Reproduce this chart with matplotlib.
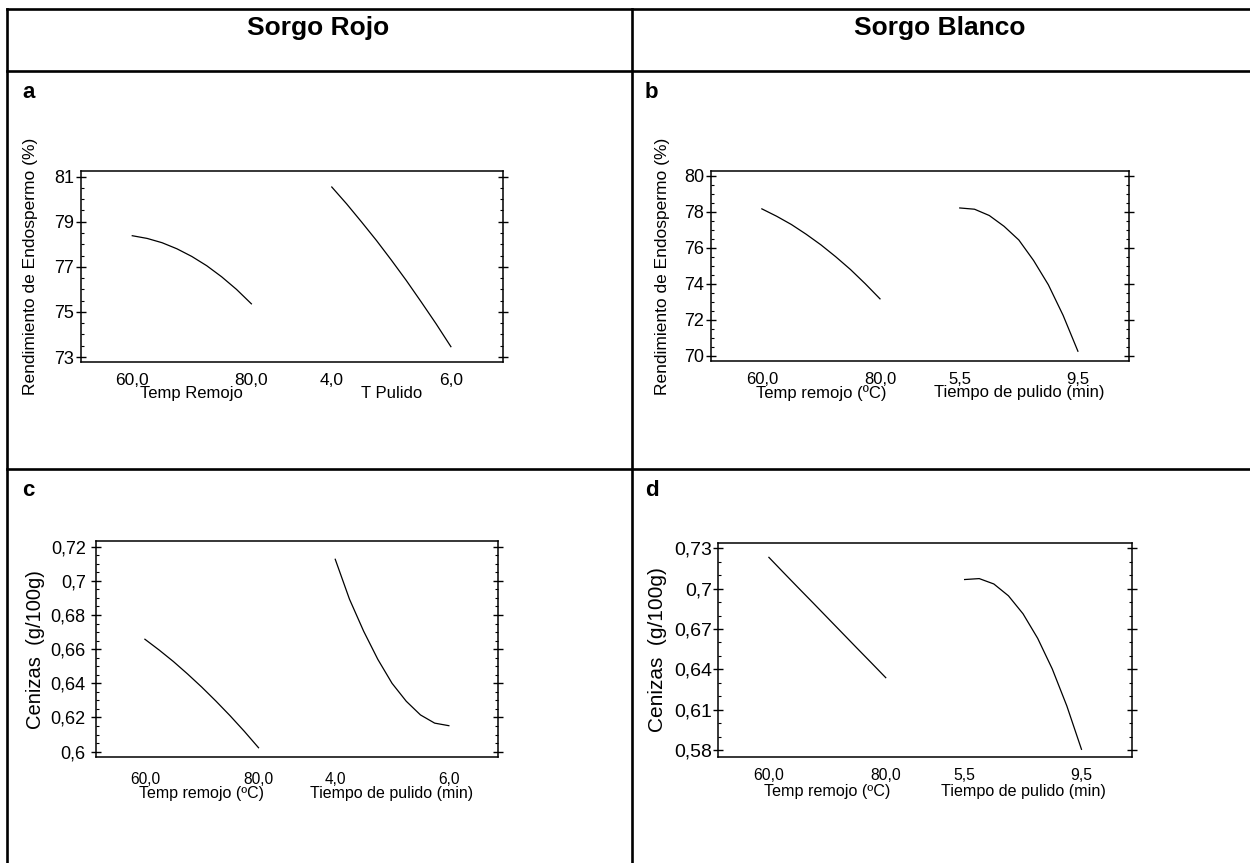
import matplotlib

matplotlib.use("Agg")
import matplotlib.pyplot as plt
from matplotlib.lines import Line2D
from matplotlib.ticker import FixedLocator, FuncFormatter, MultipleLocator

plt.rcParams["font.family"] = ["Liberation Sans", "DejaVu Sans"]

W, H = 1250, 863

# factor levels along each curve
temp_levels = [60.0, 62.5, 65.0, 67.5, 70.0, 72.5, 75.0, 77.5, 80.0]
pulido_rojo_levels = [4.0, 4.25, 4.5, 4.75, 5.0, 5.25, 5.5, 5.75, 6.0]
pulido_blanco_levels = [5.5, 6.0, 6.5, 7.0, 7.5, 8.0, 8.5, 9.0, 9.5]

# a) Sorgo Rojo - rendimiento de endospermo (%)
rend_rojo_temp = [78.38, 78.26, 78.07, 77.80, 77.46, 77.05, 76.56, 76.00, 75.36]
rend_rojo_pulido = [80.54, 79.79, 78.99, 78.17, 77.30, 76.40, 75.45, 74.48, 73.46]
# b) Sorgo Blanco - rendimiento de endospermo (%)
rend_blanco_temp = [78.17, 77.76, 77.30, 76.76, 76.17, 75.51, 74.80, 74.01, 73.17]
rend_blanco_pulido = [78.22, 78.15, 77.80, 77.20, 76.44, 75.30, 73.95, 72.25, 70.26]
# c) Sorgo Rojo - cenizas (g/100g)
cen_rojo_temp = [0.6658, 0.6595, 0.6528, 0.6455, 0.6378, 0.6296, 0.6210, 0.6119, 0.6023]
cen_rojo_pulido = [0.7126, 0.6893, 0.6705, 0.6540, 0.6400, 0.6295, 0.6215, 0.6167, 0.6152]
# d) Sorgo Blanco - cenizas (g/100g)
cen_blanco_temp = [0.7233, 0.7120, 0.7008, 0.6897, 0.6785, 0.6673, 0.6561, 0.6450, 0.6338]
cen_blanco_pulido = [0.7068, 0.7075, 0.7035, 0.6947, 0.6813, 0.6631, 0.6403, 0.6127, 0.5805]

xtick_labels_rojo = ["60,0", "80,0", "4,0", "6,0"]
xtick_labels_blanco = ["60,0", "80,0", "5,5", "9,5"]
factors_a = ["Temp Remojo", "T Pulido"]
factors = ["Temp remojo (ºC)", "Tiempo de pulido (min)"]

yticks_a = [73, 75, 77, 79, 81]
yticks_b = [70, 72, 74, 76, 78, 80]
yticks_c = [0.60, 0.62, 0.64, 0.66, 0.68, 0.70, 0.72]
yticks_d = [0.58, 0.61, 0.64, 0.67, 0.70, 0.73]

ylabel_rend = "Rendimiento de Endospermo (%)"
ylabel_cen = "Cenizas  (g/100g)"

headers = ["Sorgo Rojo", "Sorgo Blanco"]
panel_letters = ["a", "b", "c", "d"]

SEG2 = 1.675
XLIM = (-0.433, SEG2 + 1 + 0.435)


def comma_fmt(v, _pos):
    return f"{v:g}".replace(".", ",")


def to_pos(levels, offset):
    lo, hi = levels[0], levels[-1]
    return [(v - lo) / (hi - lo) + offset for v in levels]


def draw_panel(fig, box, temp, pulido, pulido_levels, ylim, yticks, minor, xlabels, fnames, ylabel, st):
    left, top, right, bottom = box
    ax = fig.add_axes([left / W, 1 - bottom / H, (right - left) / W, (bottom - top) / H])
    ax.plot(to_pos(temp_levels, 0.0), temp, color="black", lw=0.9)
    ax.plot(to_pos(pulido_levels, SEG2), pulido, color="black", lw=0.9)
    ax.set_xlim(*XLIM)
    ax.set_ylim(*ylim)
    for sp in ax.spines.values():
        sp.set_linewidth(1.1)
    ax.set_xticks([0, 1, SEG2, SEG2 + 1])
    ax.set_xticklabels(xlabels, fontsize=st["xt"])
    ax.tick_params(axis="x", length=0, pad=st["xpad"])
    ax.yaxis.set_major_locator(FixedLocator(yticks))
    ax.yaxis.set_minor_locator(MultipleLocator(minor))
    ax.yaxis.set_major_formatter(FuncFormatter(comma_fmt))
    ax.tick_params(axis="y", which="major", direction="inout", length=6.5, width=1.0,
                   right=True, labelsize=st["yt"], pad=st["ypad"])
    ax.tick_params(axis="y", which="minor", direction="in", length=2.2, width=0.8, right=True)
    for i, name in enumerate(fnames):
        cx = 0.5 + i * SEG2
        ax.annotate(name, xy=(cx, 0), xycoords=("data", "axes fraction"),
                    xytext=(0, -st["foff"] * 0.72), textcoords="offset points",
                    ha="center", va="top", fontsize=st["ft"])
    ax.set_ylabel(ylabel, fontsize=st["yl"])
    ax.yaxis.set_label_coords((st["ylx"] - left) / (right - left), 0.5)
    return ax


def main() -> None:
    fig = plt.figure(figsize=(W / 100, H / 100), dpi=100)

    style_top = {"xt": 12.5, "xpad": 8.0, "ft": 12, "foff": 24, "yt": 13, "ypad": 1.5, "yl": 12.5}
    draw_panel(fig, (80.7, 171, 502.7, 362), rend_rojo_temp, rend_rojo_pulido, pulido_rojo_levels,
               (72.78, 81.25), yticks_a, 0.5, xtick_labels_rojo, factors_a, ylabel_rend,
               dict(style_top, ylx=38.5))
    draw_panel(fig, (710.7, 170.7, 1129.3, 361.3), rend_blanco_temp, rend_blanco_pulido, pulido_blanco_levels,
               (69.7, 80.29), yticks_b, 0.5, xtick_labels_blanco, factors, ylabel_rend,
               dict(style_top, xt=12, ylx=669.5))
    draw_panel(fig, (95.7, 541, 498.3, 757.3), cen_rojo_temp, cen_rojo_pulido, pulido_rojo_levels,
               (0.5967, 0.7233), yticks_c, 0.005, xtick_labels_rojo, factors, ylabel_cen,
               {"xt": 11.2, "xpad": 10.5, "ft": 11.5, "foff": 29, "yt": 13, "ypad": 4.0, "yl": 14.5, "ylx": 45})
    draw_panel(fig, (718.3, 542.7, 1132.3, 756.7), cen_blanco_temp, cen_blanco_pulido, pulido_blanco_levels,
               (0.575, 0.7342), yticks_d, 0.01, xtick_labels_blanco, factors, ylabel_cen,
               {"xt": 11.3, "xpad": 8.0, "ft": 11.6, "foff": 27, "yt": 14, "ypad": 1.0, "yl": 15, "ylx": 667})

    # table frame around the panels
    lw = 1.9
    for y in (9, 71, 469):
        fig.add_artist(Line2D([7 / W, 1.0], [1 - y / H, 1 - y / H], color="black", lw=lw))
    for x in (7, 632):
        fig.add_artist(Line2D([x / W, x / W], [1 - 9 / H, 0.0], color="black", lw=lw))

    fig.text(318 / W, 1 - 35 / H, headers[0], ha="center", va="baseline", fontsize=19, fontweight="bold")
    fig.text(940 / W, 1 - 35 / H, headers[1], ha="center", va="baseline", fontsize=19, fontweight="bold")
    for letter, (x, y) in zip(panel_letters, [(22, 98), (645, 98), (22, 496), (645, 496)]):
        fig.text(x / W, 1 - y / H, letter, ha="left", va="baseline", fontsize=16, fontweight="bold")

    fig.savefig("out.png", dpi=100)
    plt.close(fig)


if __name__ == "__main__":
    main()
